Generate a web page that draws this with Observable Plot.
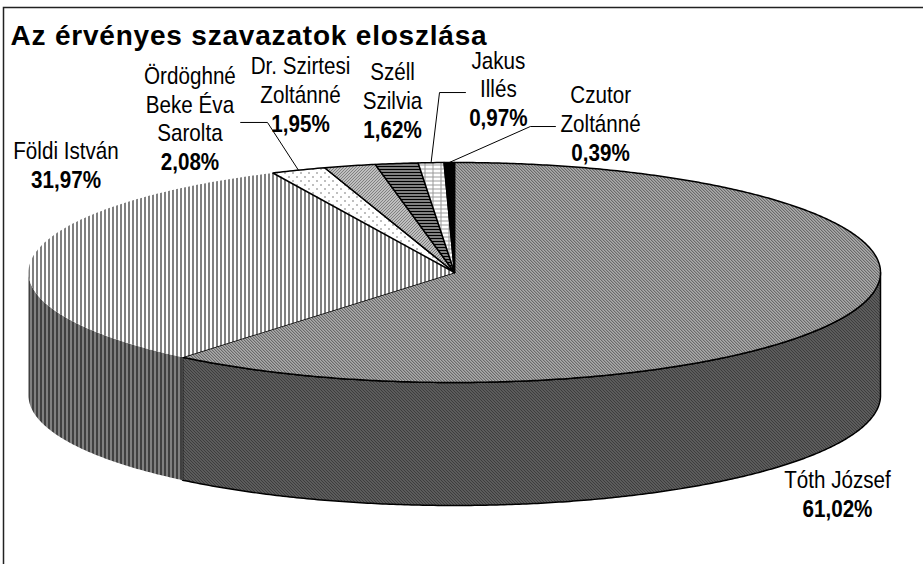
<!DOCTYPE html>
<html><head><meta charset="utf-8">
<script src="https://cdn.jsdelivr.net/npm/d3@7"></script>
<script src="https://cdn.jsdelivr.net/npm/@observablehq/plot@0.6"></script>
<style>
html,body{margin:0;padding:0;background:#fff;}
#chart svg{display:block;}
</style></head><body>
<svg width="0" height="0" style="position:absolute">
<defs>
 <pattern id="p0top" patternUnits="userSpaceOnUse" width="3" height="3">
   <rect width="3" height="3" fill="#fff"/>
   <rect x="0" y="0" width="1" height="1" fill="#000"/><rect x="1" y="1" width="1" height="1" fill="#000"/><rect x="2" y="2" width="1" height="1" fill="#000"/>
   <rect x="1" y="0" width="1" height="1" fill="#aaa"/><rect x="2" y="1" width="1" height="1" fill="#aaa"/><rect x="0" y="2" width="1" height="1" fill="#aaa"/>
 </pattern>
 <pattern id="p0side" patternUnits="userSpaceOnUse" width="3" height="3">
   <rect width="3" height="3" fill="#7a7a7a"/>
   <rect x="0" y="0" width="1" height="1" fill="#000"/><rect x="1" y="1" width="1" height="1" fill="#000"/><rect x="2" y="2" width="1" height="1" fill="#000"/>
 </pattern>
 <pattern id="p1top" patternUnits="userSpaceOnUse" width="4" height="4">
   <rect width="4" height="4" fill="#fff"/><rect x="0" y="0" width="1" height="4" fill="#000"/>
 </pattern>
 <pattern id="p1side" patternUnits="userSpaceOnUse" width="4" height="4">
   <rect width="4" height="4" fill="#808080"/><rect x="0" y="0" width="1" height="4" fill="#000"/>
 </pattern>
 <pattern id="p2" patternUnits="userSpaceOnUse" width="8" height="8">
   <rect width="8" height="8" fill="#fff"/><rect x="0" y="0" width="1" height="1" fill="#000"/><rect x="4" y="4" width="1" height="1" fill="#000"/>
 </pattern>
 <pattern id="p3" patternUnits="userSpaceOnUse" width="3" height="3">
   <rect width="3" height="3" fill="#fff"/>
   <rect x="2" y="0" width="1" height="1" fill="#000"/><rect x="1" y="1" width="1" height="1" fill="#000"/><rect x="0" y="2" width="1" height="1" fill="#000"/>
 </pattern>
 <pattern id="p4" patternUnits="userSpaceOnUse" width="3" height="3">
   <rect width="3" height="3" fill="#fff"/><rect x="0" y="0" width="3" height="2" fill="#000"/>
 </pattern>
 <pattern id="p5" patternUnits="userSpaceOnUse" width="8" height="4">
   <rect width="8" height="4" fill="#fff"/><rect x="0" y="0" width="8" height="1" fill="#9a9a9a"/><rect x="0" y="0" width="1" height="4" fill="#9a9a9a"/>
 </pattern>
</defs></svg>
<div id="chart"></div>
<script>
// ---- data ----
const names = ["Tóth József", "Földi István", "Ördöghné\nBeke Éva\nSarolta", "Dr. Szirtesi\nZoltánné", "Széll\nSzilvia", "Jakus\nIllés", "Czutor\nZoltánné"];
const shares = [61.02, 31.97, 2.08, 1.95, 1.62, 0.97, 0.39];
const percentLabels = ["61,02%", "31,97%", "2,08%", "1,95%", "1,62%", "0,97%", "0,39%"];
const title = "Az érvényes szavazatok eloszlása";

// ---- styles / layout ----
const topFills = ["url(#p0top)", "url(#p1top)", "url(#p2)", "url(#p3)", "url(#p4)", "url(#p5)", "#000"];
const sideFills = ["url(#p0side)", "url(#p1side)", "url(#p2)", "url(#p3)", "url(#p4)", "url(#p5)", "#000"];
const outline = [true, false, true, true, true, true, true];
// label anchor (center x, baseline of last name line) in pie units
const labelX = [0.899, -0.912, -0.621, -0.3615, -0.1455, 0.103, 0.343];
const labelY = [-1.955, 1.036, 1.191, 1.545, 1.482, 1.591, 1.273];
// leader lines: [x start, x elbow, y] in pie units (null = none)
const leaders = [null, null, [-0.502, -0.439, 1.364], null, null, [0.0258, -0.0352, 1.636], [0.237, 0.178, 1.327]];
const depth = 1.118;

const total = d3.sum(shares);
const slices = [];
let acc = 0;
shares.forEach((v, i) => {
  const a0 = acc / total * 2 * Math.PI;
  acc += v;
  const a1 = acc / total * 2 * Math.PI;
  slices.push({i, name: names[i], a0, a1, mid: (a0 + a1) / 2});
});
const pt = (a, dy = 0) => ({x: Math.sin(a), y: Math.cos(a) - dy});
function arc(a0, a1, dy = 0) {
  const n = Math.max(2, Math.ceil((a1 - a0) / (Math.PI / 360)));
  return d3.range(n + 1).map(k => pt(a0 + (a1 - a0) * k / n, dy));
}
function topPoly(s) {
  const c = {x: 0, y: 0};
  return [c, ...arc(s.a0, s.a1), c];
}
function sidePoly(s) {
  const lo = Math.max(s.a0, Math.PI / 2), hi = Math.min(s.a1, 3 * Math.PI / 2);
  if (hi <= lo) return null;
  const t = arc(lo, hi), b = arc(lo, hi, depth).reverse();
  return [...t, ...b, t[0]];
}

const marks = [];
slices.forEach(s => {
  const p = sidePoly(s);
  if (p) marks.push(Plot.line(p, {x: "x", y: "y", fill: sideFills[s.i], stroke: outline[s.i] ? "#000" : "none", strokeWidth: 1.5, strokeLinejoin: "round"}));
});
slices.forEach(s => {
  marks.push(Plot.line(topPoly(s), {x: "x", y: "y", fill: topFills[s.i], stroke: outline[s.i] ? "#000" : "none", strokeWidth: 1.5, strokeLinejoin: "round"}));
});
slices.forEach(s => {
  const L = leaders[s.i];
  if (!L) return;
  const m = pt(s.mid);
  marks.push(Plot.line([{x: L[0], y: L[2]}, {x: L[1], y: L[2]}, m], {x: "x", y: "y", stroke: "#000", strokeWidth: 1}));
});
const labels = slices.map(s => ({x: labelX[s.i], y: labelY[s.i], name: s.name, pct: percentLabels[s.i]}));
const labelFont = "'Liberation Sans', Arial, sans-serif";
marks.push(Plot.text(labels, {x: "x", y: "y", text: "name", lineAnchor: "bottom", lineHeight: 29 / 24, fontSize: 24, fontFamily: labelFont, fill: "#000", textAnchor: "middle", ariaDescription: "label"}));
marks.push(Plot.text(labels, {x: "x", y: "y", dy: 29, text: "pct", lineAnchor: "bottom", fontSize: 24, fontWeight: "bold", fontFamily: labelFont, fill: "#000", textAnchor: "middle", ariaDescription: "label"}));
marks.push(Plot.text([title], {frameAnchor: "top-left", dx: 10, dy: 44, lineAnchor: "bottom", textAnchor: "start", fontSize: 28, fontWeight: "bold", fontFamily: labelFont, fill: "#000", ariaDescription: "title"}));
marks.push(Plot.frame({stroke: "#222", strokeWidth: 1.5, insetLeft: 3, insetTop: 7, insetRight: -10, insetBottom: -10}));

const chart = Plot.plot({
  width: 923, height: 564, margin: 0,
  style: {background: "#fff", overflow: "hidden"},
  x: {domain: [-1, 1], range: [28, 880], axis: null},
  y: {domain: [1, -1], range: [162, 382], axis: null},
  marks
});
const sel = d3.select(chart);
sel.selectAll('g[aria-description="title"] text').style("letter-spacing", "0.8px");
// narrow the label glyphs horizontally, as in the reference rendering
sel.selectAll('g[aria-description="label"] text').attr("transform", function () {
  return (this.getAttribute("transform") || "") + " scale(0.86,1)";
});
document.getElementById("chart").appendChild(chart);
</script>
</body></html>
